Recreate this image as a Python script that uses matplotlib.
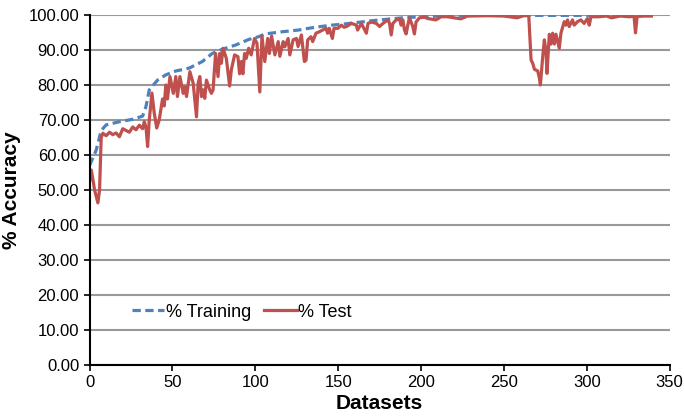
import matplotlib
matplotlib.use('Agg')
import matplotlib.pyplot as plt
from matplotlib.ticker import FormatStrFormatter

plt.rcParams['font.family'] = ['Liberation Sans', 'DejaVu Sans']

# % Training accuracy (dataset index, value)
train_x = [0, 4, 7, 10, 18, 26, 32, 34, 36, 41, 46, 52, 60, 68, 74, 80, 88, 96,
           102, 106, 116, 126, 136, 146, 153, 171, 191, 207, 218, 339]
train_y = [57, 61.4, 67, 68.6, 69.5, 70.2, 71.1, 73.8, 78.6, 81.4, 82.9, 84, 84.8,
           86.7, 89, 90.2, 91.4, 93, 93.8, 94.6, 95.2, 95.7, 96.5, 97.1, 97.4, 98.4,
           99.3, 99.6, 99.9, 99.9]

# % Test accuracy
test_x = [0, 1, 2, 3, 5, 6, 7, 8, 10, 12, 14, 16, 18, 20, 22, 24, 26, 28, 30, 32,
          33, 34, 35, 36, 37.6, 39, 40.5, 42, 44, 45, 46, 47, 48.5, 50.5, 52, 53,
          54.5, 56.5, 57.5, 58.5, 60.5, 62.5, 64.5, 65.5, 66.5, 67.5, 68.5, 69.5,
          70.5, 72.5, 73.5, 74.5, 76, 77.5, 78.5, 79.5, 80.5, 82.5, 84.5, 85.5,
          87.5, 89.5, 90.5, 91.5, 92.5, 93.5, 94.5, 96, 97.5, 99.5, 101, 102.7,
          104, 105.7, 107.5, 108.5, 109.8, 110.8, 111.8, 113.8, 114.8, 116.8,
          117.8, 119.8, 120.8, 122.8, 124.8, 125.8, 127.8, 129.6, 130.6, 131.6,
          133.6, 134.6, 136.6, 138.6, 140.6, 142.6, 143.6, 144.6, 146.5, 147.5,
          149.9, 151.9, 153.5, 155, 158, 161, 161.7, 164, 166, 167, 168, 170, 173,
          175, 177, 180, 181, 182, 183, 185, 187, 188, 189, 190, 191, 192, 193,
          195, 196, 197, 199, 202, 204, 209, 212, 216, 224, 228, 240, 250, 258,
          262, 265, 266.4, 267.4, 268.4, 270.4, 271.4, 272, 273.4, 274.4, 275.4,
          276, 277.4, 278.4, 279.4, 280.4, 281.4, 283.4, 284.4, 286.4, 287.4,
          288.4, 289.4, 291.4, 292.4, 294.4, 296.4, 298.4, 300.4, 301.5, 302.5,
          307, 312, 315, 320, 326, 328.5, 329.4, 330.4, 335, 339]
test_y = [52.5, 55.7, 53, 50, 46.3, 50, 65, 66.2, 65.5, 66.5, 65.8, 66.3, 65.2,
          67.5, 67, 66.5, 68, 67.2, 68.5, 67.5, 69.5, 68, 62.4, 70, 77.7, 72, 67.7,
          70, 76, 74, 80, 76, 82.4, 77.6, 82.4, 76.7, 82.4, 77.6, 79.5, 76.7, 83.8,
          80.5, 70.9, 80.5, 82.4, 76.7, 78.6, 76.2, 81.4, 78.6, 77.6, 78.6, 89,
          82.4, 89, 86.2, 90.5, 87.6, 79.7, 84.3, 88.6, 88.1, 83.2, 86.7, 83.2, 89,
          87.6, 90.5, 88.6, 93.3, 91.9, 78, 94, 86.7, 93.3, 89, 94, 91.2, 88.6,
          92.4, 88.2, 92.4, 90.9, 93.3, 88.6, 92.9, 93.3, 91, 94.3, 86.7, 87.1,
          92.9, 93.8, 92.4, 94.8, 95.2, 95.7, 96.2, 94.8, 96.2, 93.3, 96.2, 96.2,
          97.1, 96.5, 96.7, 97.6, 97.1, 95.7, 97.6, 95.7, 94.8, 97.6, 98, 97.6,
          96.7, 97.6, 98.6, 97.6, 94.3, 97.6, 98.6, 98.8, 97.1, 98.6, 95.7, 94.6,
          97.1, 99.2, 96.7, 94.6, 98, 99.2, 99.4, 99, 98.6, 99.5, 99.5, 98.9, 99.7,
          99.8, 99.7, 99.2, 99.8, 99.8, 87.1, 86.2, 84.5, 84, 82, 80, 88, 92.9,
          89.6, 83.3, 94.5, 91.7, 94.8, 91.7, 94.5, 90.5, 94.8, 98.1, 97.1, 98.6,
          96.7, 98.6, 97.1, 98.1, 98.6, 97.6, 99, 97.1, 99.5, 99.5, 99.7, 99.2,
          99.7, 99.5, 99.7, 94.9, 99.6, 99.7, 99.7]

fig = plt.figure(figsize=(6.84, 4.17), dpi=100)
ax = fig.add_axes([0.131, 0.125, 0.848, 0.839])

ax.plot(train_x, train_y, '--', color='#4F81BD', linewidth=2.3, dashes=(2.6, 1.4),
        label='% Training')
ax.plot(test_x, test_y, '-', color='#C0504D', linewidth=2.3, label='% Test')

ax.set_xlim(0, 350)
ax.set_ylim(0, 100)
ax.set_xticks(range(0, 351, 50))
ax.set_yticks(range(0, 101, 10))
ax.yaxis.set_major_formatter(FormatStrFormatter('%.2f'))
ax.tick_params(labelsize=12, direction='out', length=4, width=1.2)

ax.grid(axis='y', color='#999999', linewidth=1.5)
ax.set_axisbelow(True)
for s in ['top', 'right']:
    ax.spines[s].set_visible(False)
for s in ['left', 'bottom']:
    ax.spines[s].set_linewidth(1.5)

ax.set_xlabel('Datasets', fontsize=15, fontweight='bold', labelpad=3)
ax.set_ylabel('% Accuracy', fontsize=15, fontweight='bold', labelpad=5)

ax.legend(loc='center left', bbox_to_anchor=(0.045, 0.151), ncol=2, frameon=False,
          fontsize=13, handlelength=1.8, handletextpad=0.1, columnspacing=0.7)

fig.savefig('out.png', dpi=100)
